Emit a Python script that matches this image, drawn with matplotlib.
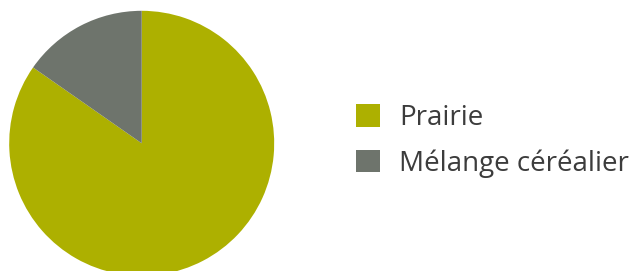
import matplotlib
matplotlib.use("Agg")
import matplotlib.pyplot as plt
from matplotlib.patches import Patch

labels = ["Prairie", "Mélange céréalier"]
values = [84.7, 15.3]
colors = ["#ADB000", "#6E746C"]

fig = plt.figure(figsize=(6.36, 2.71), dpi=100)
ax = fig.add_axes([9.2/636, -4.8/271, 265/636, 265/271])
ax.pie(values, colors=colors, startangle=90, counterclock=False, radius=1,
       wedgeprops=dict(linewidth=0))
ax.set_xlim(-1, 1)
ax.set_ylim(-1, 1)
ax.set_aspect("equal")
ax.axis("off")

handles = [Patch(facecolor=c, edgecolor="none", label=l) for c, l in zip(colors, labels)]
leg = fig.legend(handles=handles, loc="center left", bbox_to_anchor=(356/636, 1 - 141/271),
                 frameon=False, prop={"family": "Open Sans", "size": 20},
                 handlelength=0.88, handleheight=0.88, handletextpad=0.68,
                 labelspacing=0.6, borderpad=0, borderaxespad=0)
for t in leg.get_texts():
    t.set_color("#3C3C3C")

fig.savefig("out.png", dpi=100)
